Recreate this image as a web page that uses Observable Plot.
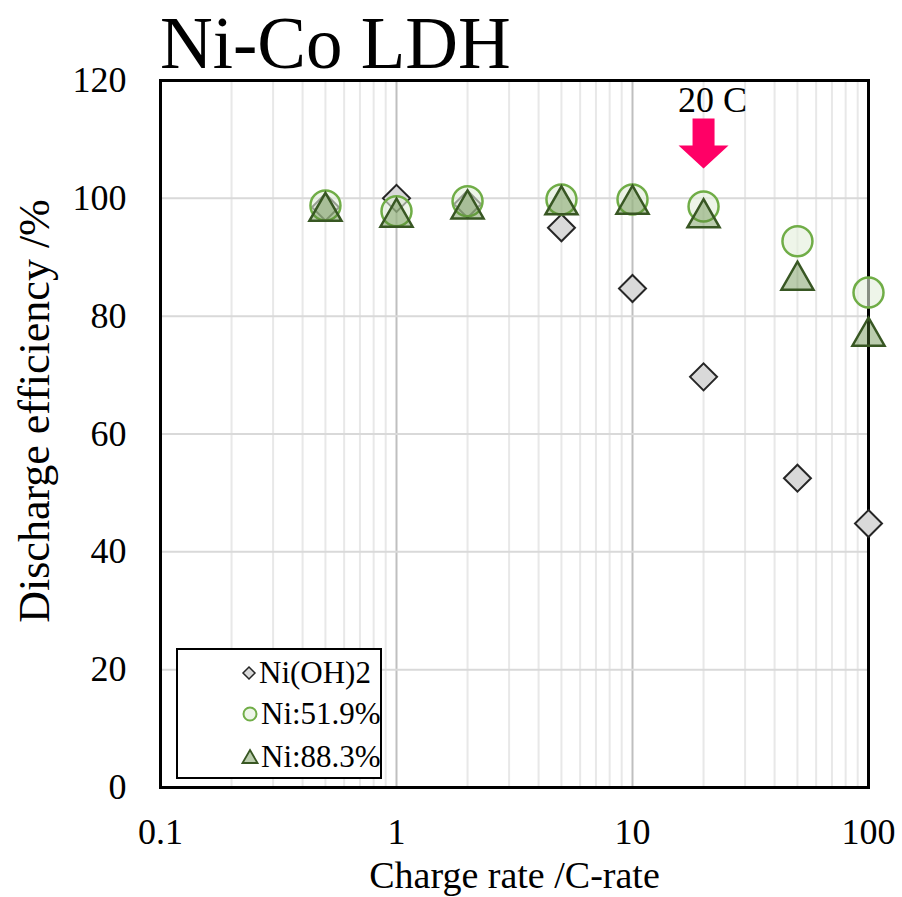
<!DOCTYPE html>
<html><head><meta charset="utf-8">
<script src="https://cdn.jsdelivr.net/npm/d3@7"></script>
<script src="https://cdn.jsdelivr.net/npm/@observablehq/plot@0.6"></script>
<style>
body{margin:0;background:#fff;}
#wrap{position:relative;width:902px;height:897px;font-family:'Liberation Serif','Times New Roman',serif;color:#000;}
#title{position:absolute;left:160px;top:4px;font-size:73px;line-height:80px;height:80px;font-family:'Liberation Serif','Times New Roman',serif;}
#legend{position:absolute;left:176px;top:648px;width:202px;height:127px;border:2px solid #000;background:#fff;font-size:31px;font-family:'Liberation Serif','Times New Roman',serif;}
#legend .row{position:absolute;left:63px;display:flex;align-items:center;height:34px;}
#legend svg{margin-right:2px;}
svg text{font-family:'Liberation Serif','Times New Roman',serif;}
</style></head><body>
<div id="wrap"><div id="chart"></div><div id="title">Ni-Co LDH</div><div id="legend"></div></div>
<script>
// ---- data ----
const rates = [0.5, 1, 2, 5, 10, 20, 50, 100];
const niOH2 = [98.5, 100, 99, 95, 84.7, 69.7, 52.5, 44.8];
const ni519 = [98.8, 97.8, 99.5, 99.8, 99.8, 98.6, 92.7, 84.0];
const ni883 = [98.4, 97.4, 98.8, 99.5, 99.6, 97.3, 86.7, 77.2];
const seriesNames = ["Ni(OH)2", "Ni:51.9%", "Ni:88.3%"];
const xTicks = [0.1, 1, 10, 100];
const xTickLabels = ["0.1", "1", "10", "100"];
const yTicks = [0, 20, 40, 60, 80, 100, 120];
const annotation = [{rate: 20, value: 109.3, label: "20 C", labelValue: 116.6}];
const xTitle = "Charge rate /C-rate";
const yTitle = "Discharge efficiency /%";

// minor log gridlines (2..9 per decade)
const xMinor = [0.1, 1, 10].flatMap(d => [2,3,4,5,6,7,8,9].map(k => +(d * k).toPrecision(3)));

const rows = (vals, name) => rates.map((r, i) => ({rate: r, value: vals[i], series: name}));
const dOH = rows(niOH2, seriesNames[0]);
const d519 = rows(ni519, seriesNames[1]);
const d883 = rows(ni883, seriesNames[2]);

const diamondSym = {draw(ctx, size) { const r = Math.sqrt(size / Math.PI); ctx.moveTo(0, -r); ctx.lineTo(r, 0); ctx.lineTo(0, r); ctx.lineTo(-r, 0); ctx.closePath(); }};
const triSym = {draw(ctx, size) { const r = Math.sqrt(size / Math.PI); ctx.moveTo(0, -r); ctx.lineTo(r * 1.07, r * 0.87); ctx.lineTo(-r * 1.07, r * 0.87); ctx.closePath(); }};
const arrowSym = {draw(ctx, size) { const r = Math.sqrt(size / Math.PI); const sw = r * 0.44, hw = r, top = -r, neck = r * 0.08, tip = r;
  ctx.moveTo(-sw, top); ctx.lineTo(sw, top); ctx.lineTo(sw, neck); ctx.lineTo(hw, neck); ctx.lineTo(0, tip); ctx.lineTo(-hw, neck); ctx.lineTo(-sw, neck); ctx.closePath(); }};

const fontFam = "Liberation Serif, Times New Roman, serif";

const plot = Plot.plot({
  width: 902, height: 897,
  marginLeft: 160, marginRight: 34, marginTop: 80, marginBottom: 110,
  style: {fontFamily: fontFam, fontSize: "36px", color: "#000", background: "#fff"},
  x: {type: "log", domain: [0.1, 100]},
  y: {domain: [0, 120]},
  marks: [
    Plot.gridX(xMinor, {stroke: "#e8e8e8", strokeOpacity: 1, strokeWidth: 2}),
    Plot.gridX([1, 10], {stroke: "#bfbfbf", strokeOpacity: 1, strokeWidth: 2}),
    Plot.gridY(yTicks.filter(d => d > 0 && d < 120), {stroke: "#d9d9d9", strokeOpacity: 1, strokeWidth: 2}),
    Plot.frame({stroke: "#000", strokeWidth: 3}),
    Plot.axisX(xTicks, {tickSize: 0, tickPadding: 31, fontSize: 36, fontFamily: fontFam, tickFormat: d => xTickLabels[xTicks.indexOf(d)], label: null}),
    Plot.axisY(yTicks, {tickSize: 0, tickPadding: 34, fontSize: 36, fontFamily: fontFam, tickFormat: d => String(d), label: null}),
    Plot.text([xTitle], {frameAnchor: "bottom", dy: 88, fontSize: 38, fontFamily: fontFam, lineAnchor: "middle", textAnchor: "middle"}),
    Plot.text([yTitle], {frameAnchor: "left", dx: -126, dy: -23, rotate: -90, fontSize: 44, fontFamily: fontFam, lineAnchor: "middle", textAnchor: "middle"}),
    Plot.dot(dOH, {x: "rate", y: "value", symbol: diamondSym, r: 13.5, fill: "#d9d9d9", stroke: "#262626", strokeWidth: 2}),
    Plot.dot(d519, {x: "rate", y: "value", r: 15, fill: "#e2efda", fillOpacity: 0.6, stroke: "#70ad47", strokeWidth: 2.5}),
    Plot.dot(d883, {x: "rate", y: "value", symbol: triSym, r: 15, fill: "#548235", fillOpacity: 0.4, stroke: "#385723", strokeWidth: 2.5}),
    Plot.dot(annotation, {x: "rate", y: "value", symbol: arrowSym, r: 25, fill: "#ff0066", stroke: "none"}),
    Plot.text(annotation, {x: "rate", y: "labelValue", text: "label", dx: 9, fontSize: 36, fontFamily: fontFam, lineAnchor: "middle"})
  ]
});
document.getElementById("chart").appendChild(plot);

// legend
const legend = document.getElementById("legend");
const legendSyms = [
  `<svg width="16" height="16" viewBox="-8 -8 16 16"><path d="M0,-6L6,0L0,6L-6,0Z" fill="#d9d9d9" stroke="#262626" stroke-width="1.5"/></svg>`,
  `<svg width="18" height="18" viewBox="-9 -9 18 18"><circle r="6.5" fill="#e2efda" fill-opacity="0.6" stroke="#70ad47" stroke-width="2"/></svg>`,
  `<svg width="18" height="18" viewBox="-9 -9 18 18"><path d="M0,-7L7.5,6L-7.5,6Z" fill="#548235" fill-opacity="0.4" stroke="#385723" stroke-width="1.8"/></svg>`
];
const rowTops = [6, 47, 90];
seriesNames.forEach((name, i) => {
  const row = document.createElement("div");
  row.className = "row";
  row.style.top = rowTops[i] + "px";
  row.innerHTML = legendSyms[i] + `<span>${name}</span>`;
  legend.appendChild(row);
});
</script>
</body></html>
